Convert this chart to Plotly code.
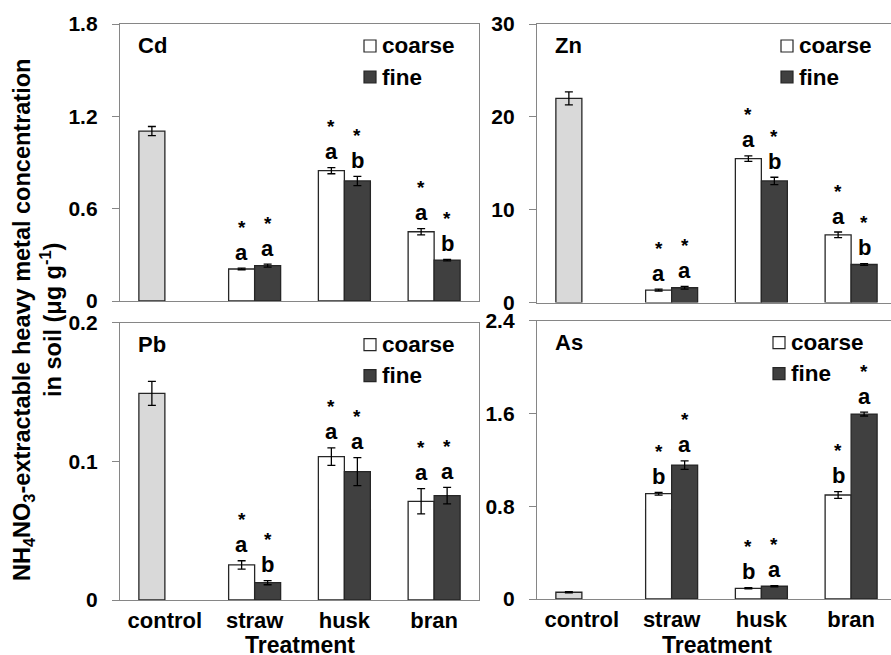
import plotly.graph_objects as go

W, H = 891, 655
FONT = "Liberation Sans, Arial, sans-serif"

categories = ["control", "straw", "husk", "bran"]
treatments = ["straw", "husk", "bran"]

# ---- data ----
cd_control, cd_control_err = 1.104, 0.03
cd_coarse = [0.208, 0.847, 0.45]
cd_coarse_err = [0.005, 0.02, 0.02]
cd_fine = [0.23, 0.78, 0.266]
cd_fine_err = [0.01, 0.03, 0.005]
cd_coarse_letters = ["a", "a", "a"]
cd_fine_letters = ["a", "b", "b"]

zn_control, zn_control_err = 22.0, 0.7
zn_coarse = [1.35, 15.5, 7.3]
zn_coarse_err = [0.1, 0.3, 0.3]
zn_fine = [1.6, 13.1, 4.1]
zn_fine_err = [0.15, 0.4, 0.1]
zn_coarse_letters = ["a", "a", "a"]
zn_fine_letters = ["a", "b", "b"]

pb_control, pb_control_err = 0.149, 0.0087
pb_coarse = [0.0253, 0.1034, 0.0712]
pb_coarse_err = [0.003, 0.0063, 0.0091]
pb_fine = [0.0125, 0.0926, 0.0753]
pb_fine_err = [0.0015, 0.0101, 0.006]
pb_coarse_letters = ["a", "a", "a"]
pb_fine_letters = ["b", "a", "a"]

as_control, as_control_err = 0.058, 0.005
as_coarse = [0.908, 0.092, 0.897]
as_coarse_err = [0.012, 0.005, 0.029]
as_fine = [1.155, 0.11, 1.595]
as_fine_err = [0.037, 0.005, 0.017]
as_coarse_letters = ["b", "b", "b"]
as_fine_letters = ["a", "a", "a"]

panel_names = ["Cd", "Zn", "Pb", "As"]
y_ranges = [[0, 1.8], [0, 30], [0, 0.2], [0, 2.4]]
y_dticks = [0.6, 10, 0.1, 0.8]

# ---- styling ----
CONTROL_COL = "#d9d9d9"
COARSE_COL = "#ffffff"
FINE_COL = "#404040"
EDGE = "#262626"
AXIS_COL = "#868686"

# panel pixel boxes: left, right, top, bottom
boxes = [
    (120, 479, 24, 301),
    (537, 891, 24, 302.6),
    (120, 479, 322.7, 600),
    (537, 891, 320.7, 599),
]
PX_PER_CAT = 89.75
BW = 26 / PX_PER_CAT  # bar width in category units

panels = [
    (cd_control, cd_control_err, cd_coarse, cd_coarse_err, cd_fine, cd_fine_err, cd_coarse_letters, cd_fine_letters),
    (zn_control, zn_control_err, zn_coarse, zn_coarse_err, zn_fine, zn_fine_err, zn_coarse_letters, zn_fine_letters),
    (pb_control, pb_control_err, pb_coarse, pb_coarse_err, pb_fine, pb_fine_err, pb_coarse_letters, pb_fine_letters),
    (as_control, as_control_err, as_coarse, as_coarse_err, as_fine, as_fine_err, as_coarse_letters, as_fine_letters),
]

fig = go.Figure()
annotations = []
shapes = []

def err(arr):
    return dict(type="data", array=arr, visible=True, color="#000000", thickness=1.3, width=4)

for i, (ctrl, ctrl_e, co, co_e, fi, fi_e, co_l, fi_l) in enumerate(panels):
    sfx = "" if i == 0 else str(i + 1)
    xa, ya = "x" + sfx, "y" + sfx
    line = dict(color=EDGE, width=1.3)
    fig.add_trace(go.Bar(x=["control"], y=[ctrl], error_y=err([ctrl_e]), offset=-BW, width=BW,
                         marker=dict(color=CONTROL_COL, line=line), xaxis=xa, yaxis=ya, showlegend=False))
    fig.add_trace(go.Bar(x=treatments, y=co, error_y=err(co_e), offset=-BW, width=BW,
                         marker=dict(color=COARSE_COL, line=line), xaxis=xa, yaxis=ya, showlegend=False))
    fig.add_trace(go.Bar(x=treatments, y=fi, error_y=err(fi_e), offset=0, width=BW,
                         marker=dict(color=FINE_COL, line=line), xaxis=xa, yaxis=ya, showlegend=False))

    l, r, t, b = boxes[i]
    right_panel = i in (1, 3)
    xr = [-0.5, -0.5 + (r - l) / PX_PER_CAT]
    xdom = [l / W, r / W]
    ydom = [(H - b) / H, (H - t) / H]
    xaxis = dict(domain=xdom, anchor=ya, type="category", categoryorder="array",
                 categoryarray=categories, range=xr, showline=True, linecolor=AXIS_COL,
                 linewidth=1.3, mirror=True, ticks="", showgrid=False, zeroline=False,
                 showticklabels=(i >= 2), tickfont=dict(family=FONT, size=22, color="#000", weight="bold"),
                 ticklabelstandoff=0, automargin=False, fixedrange=True)
    yaxis = dict(domain=ydom, anchor=xa, range=y_ranges[i], dtick=y_dticks[i], tick0=0,
                 showline=True, linecolor=AXIS_COL, linewidth=1.3, mirror=(not right_panel),
                 ticks="outside", ticklen=7, tickcolor=AXIS_COL, tickwidth=1.3,
                 showgrid=False, zeroline=False, ticklabelstandoff=10, automargin=False,
                 tickfont=dict(family=FONT, size=21, color="#000", weight="bold"), fixedrange=True)
    fig.layout["xaxis" + sfx] = xaxis
    fig.layout["yaxis" + sfx] = yaxis

    # significance letters and stars
    for j, tname in enumerate(treatments):
        idx = categories.index(tname)
        for vals, errs, lets, off in ((co, co_e, co_l, -BW / 2), (fi, fi_e, fi_l, BW / 2)):
            top = vals[j] + errs[j]
            annotations.append(dict(x=idx + off, y=top, xref=xa, yref=ya, text=lets[j],
                                    showarrow=False, yanchor="middle", yshift=16,
                                    font=dict(family=FONT, size=22, color="#000", weight="bold")))
            annotations.append(dict(x=idx + off, y=top, xref=xa, yref=ya, text="*",
                                    showarrow=False, yanchor="middle", yshift=41,
                                    font=dict(family=FONT, size=19, color="#000", weight="bold")))

    # panel label
    annotations.append(dict(x=(l + 16) / W, y=(H - (t + 22)) / H, xref="paper", yref="paper",
                            text=panel_names[i], showarrow=False, xanchor="left", yanchor="middle",
                            font=dict(family=FONT, size=22, color="#000", weight="bold")))
    # legend (drawn per panel)
    sq_l = l + (236 if i == 3 else 244)
    txt_l = sq_l + 16
    for k, (name, col) in enumerate((("coarse", COARSE_COL), ("fine", FINE_COL))):
        cy = t + (22 if k == 0 else 53)
        shapes.append(dict(type="rect", xref="paper", yref="paper",
                           x0=sq_l / W, x1=(sq_l + 12) / W, y0=(H - (cy + 6)) / H, y1=(H - (cy - 6)) / H,
                           fillcolor=col, line=dict(color=EDGE, width=1.2)))
        annotations.append(dict(x=txt_l / W, y=(H - cy) / H, xref="paper", yref="paper",
                                text=name, showarrow=False, xanchor="left", yanchor="middle",
                                font=dict(family=FONT, size=22.5, color="#000", weight="bold")))

# Treatment titles
for i in (2, 3):
    l, r, t, b = boxes[i]
    cx = l + 2 * PX_PER_CAT
    annotations.append(dict(x=cx / W, y=(H - 645) / H, xref="paper", yref="paper", text="Treatment",
                            showarrow=False, xanchor="center", yanchor="middle",
                            font=dict(family=FONT, size=23, color="#000", weight="bold")))

# y-axis title
annotations.append(dict(x=37 / W, y=(H - 320) / H, xref="paper", yref="paper",
                        text="NH<sub>4</sub>NO<sub>3</sub>-extractable heavy metal concentration<br>in soil (μg g<sup>-1</sup>)",
                        showarrow=False, textangle=-90, xanchor="center", yanchor="middle",
                        font=dict(family=FONT, size=23.5, color="#000", weight="bold")))

fig.update_layout(width=W, height=H, margin=dict(l=0, r=0, t=0, b=0, autoexpand=False),
                  paper_bgcolor="white", plot_bgcolor="white",
                  barmode="overlay", annotations=annotations, shapes=shapes,
                  font=dict(family=FONT))

fig.write_html("out.html", config={"displayModeBar": False},
               post_script="document.body.style.margin='0';document.body.style.overflow='hidden';")
